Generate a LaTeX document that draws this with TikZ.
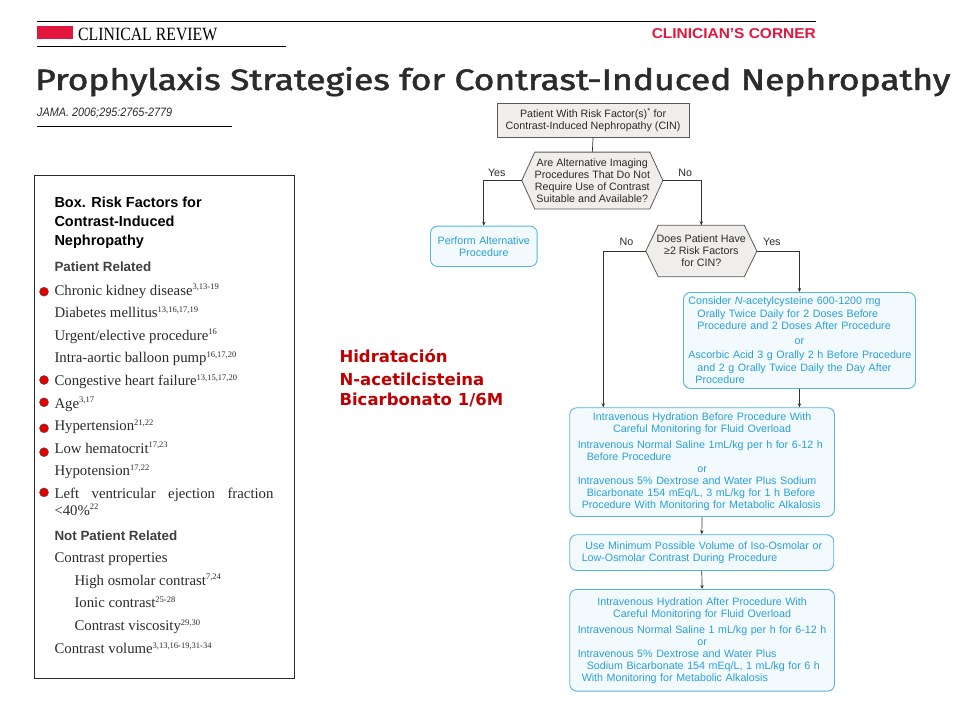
\documentclass[tikz,border=0pt]{standalone}
\usepackage{fontspec}
\usepackage{graphicx}
\setmainfont{Liberation Serif}
\setsansfont{Liberation Sans}
\newfontfamily\titlefont{Fira Sans}[FakeBold=1.6]
\newfontfamily\notefont{DejaVu Sans}
\usepackage{tikz}
\usetikzlibrary{calc,positioning,arrows.meta,backgrounds}
\definecolor{crimson}{HTML}{E3173E}
\definecolor{notered}{HTML}{C00000}
\definecolor{flowblue}{HTML}{2A9FD8}
\definecolor{flowedge}{HTML}{55B4E2}
\definecolor{flowfill}{HTML}{F3FAFD}
\definecolor{boxgrey}{HTML}{5A5A5A}
\definecolor{boxfill}{HTML}{EFEEEA}
\definecolor{boxink}{HTML}{2B2B2B}
\definecolor{linkgrey}{HTML}{333333}
\definecolor{dotred}{HTML}{E00000}

\newcommand{\refnum}[1]{\textsuperscript{\fontsize{8.5}{8.5}\selectfont #1}}
\newcommand{\indln}{\hspace*{9pt}}
% hexagon drawn round a text node, #2 = inset of the points
\newcommand{\hexframe}[2]{%
  \draw[hexbox] ($(#1.north west)+(#2,0)$) -- ($(#1.north east)+(-#2,0)$) -- (#1.east)
    -- ($(#1.south east)+(-#2,0)$) -- ($(#1.south west)+(#2,0)$) -- (#1.west) -- cycle;}

\tikzset{
  flowtext/.style={font=\sffamily\fontsize{10.7}{12}\selectfont},
  greybox/.style={draw=boxgrey, fill=boxfill, line width=0.8pt, flowtext, text=boxink,
    align=center, inner sep=0pt, anchor=north west},
  bluebox/.style={draw=flowedge, fill=flowfill, line width=0.9pt, rounded corners=7pt,
    text=flowblue, flowtext, align=left, inner xsep=3pt, inner ysep=0pt, anchor=north west},
  hextext/.style={flowtext, text=boxink, align=center, inner sep=0pt},
  hexbox/.style={draw=boxgrey, fill=boxfill, line width=0.8pt},
  link/.style={draw=linkgrey, line width=0.7pt},
  arrowlink/.style={link, -{Stealth[length=4pt,width=3.4pt]}},
  lbl/.style={flowtext, text=boxink, inner sep=0pt},
  boxhead/.style={anchor=base west, inner sep=0pt, font=\sffamily\bfseries\fontsize{14.5}{17}\selectfont},
  subhead/.style={anchor=base west, inner sep=0pt, font=\sffamily\bfseries\fontsize{13.4}{17}\selectfont, text=boxink!90},
  riskitem/.style={anchor=base west, inner sep=0pt, font=\rmfamily\fontsize{14.8}{17}\selectfont, text=boxink},
  riskdot/.style={fill=dotred, draw=black!70, line width=0.4pt},
  redline/.style={anchor=base west, inner sep=0pt, text=notered, font=\notefont\bfseries\fontsize{16.5}{20}\selectfont},
  rule/.style={draw=black, line width=0.8pt}
}

\begin{document}
\begin{tikzpicture}[x=1pt,y=-1pt]
  \useasboundingbox (0,0) rectangle (960,720);

  % page header
  \draw[rule] (37,21) -- (816,21);
  \node[fill=crimson, inner sep=0pt, minimum width=36pt, minimum height=13pt, anchor=north west] (crmark) at (37,26) {};
  \node[anchor=base west, inner sep=0pt] (crtitle) at (78,40.7) {\resizebox{139pt}{12.4pt}{\rmfamily CLINICAL REVIEW}};
  \draw[rule] (37,46.7) -- (286,46.7);
  \node[anchor=base east, inner sep=0pt, text=crimson] (corner) at (816,38.3) {\resizebox{164pt}{10pt}{\sffamily\bfseries CLINICIAN'S CORNER}};
  \node[anchor=base west, inner sep=0pt, text=boxink] (title) at (35,90) {\resizebox{915pt}{23pt}{\titlefont Prophylaxis Strategies for Contrast-Induced Nephropathy}};
  \node[anchor=base west, inner sep=0pt, text=boxink] (jama) at (37,116) {\resizebox{135pt}{8.5pt}{\sffamily\itshape JAMA. 2006;295:2765-2779}};
  \draw[rule] (37,126) -- (232,126);

  % risk factor box
  \node[draw=boxink, line width=1.3pt, minimum width=259.5pt, minimum height=502.5pt, inner sep=0pt, anchor=north west] (riskbox) at (34,175) {};
  \foreach \t [count=\i] in {Box. Risk Factors for, Contrast-Induced, Nephropathy}
    \node[boxhead] (head\i) at (54.3,188.3+19*\i) {\t};
  \node[subhead] (patrel) at (54.3,271.7) {Patient Related};
  \foreach \t [count=\k from 0] in {
      {Chronic kidney disease\refnum{3,13-19}},
      {Diabetes mellitus\refnum{13,16,17,19}},
      {Urgent/elective procedure\refnum{16}},
      {Intra-aortic balloon pump\refnum{16,17,20}},
      {Congestive heart failure\refnum{13,15,17,20}},
      {Age\refnum{3,17}},
      {Hypertension\refnum{21,22}},
      {Low hematocrit\refnum{17,23}},
      {Hypotension\refnum{17,22}},
      {\makebox[219pt][s]{Left ventricular ejection fraction}}}
    \node[riskitem] (pr\k) at (54.3,295+22.6*\k) {\t};
  \node[riskitem] (lvef) at (54.3,515) {<40\%\refnum{22}};
  \node[subhead] (notpat) at (54.3,540) {Not Patient Related};
  \node[riskitem] (cprop) at (54.3,562.7) {Contrast properties};
  \foreach \x/\y/\t/\n in {74.3/585/{High osmolar contrast\refnum{7,24}}/osmo,
      74.3/607.3/{Ionic contrast\refnum{25-28}}/ionic,
      74.3/630.7/{Contrast viscosity\refnum{29,30}}/visc,
      54.3/653.3/{Contrast volume\refnum{3,13,16-19,31-34}}/cvol}
    \node[riskitem] (\n) at (\x,\y) {\t};
  \foreach \k/\dy in {0/3.3,4/5.4,5/5.7,6/2.3,7/1,9/6}
    \draw[riskdot] ($(pr\k.base west)+(-10.3,-\dy)$) circle (4.5pt);

  % note in red
  \node[redline] (hidr) at (339.3,362.7) {Hidratación};
  \node[redline] (nac) at (339.3,385) {N-acetilcisteina};
  \node[redline] (bicarb) at (339.3,405.7) {Bicarbonato 1/6M};

  % flowchart
  \node[greybox, minimum width=192pt, minimum height=33.4pt] (start) at (496.7,103.3)
    {Patient With Risk Factor(s)\textsuperscript{*} for\\Contrast-Induced Nephropathy (CIN)};
  \node[hextext, minimum width=140.7pt, minimum height=56.4pt] (altq) at (592.3,180.5)
    {Are Alternative Imaging\\Procedures That Do Not\\Require Use of Contrast\\Suitable and Available?};
  \node[hextext, minimum width=110.7pt, minimum height=51pt] (riskq) at (701.3,251)
    {Does Patient Have\\≥2 Risk Factors\\for CIN?};

  \node[bluebox, align=center, text width=100.7pt, minimum width=106.7pt, minimum height=40.3pt] (perform) at (430,225.7)
    {Perform Alternative\\Procedure};
  \node[bluebox, font=\sffamily\fontsize{10.7}{12.5}\selectfont, text width=226pt, minimum width=232pt, minimum height=96pt] (consider) at (683,292) {%
    \leftskip=2pt Consider \emph{N}-acetylcysteine 600-1200 mg\\
    \indln Orally Twice Daily for 2 Doses Before\\
    \indln Procedure and 2 Doses After Procedure\par
    \vspace{2pt}{\centering or\par}\vspace{2pt}
    Ascorbic Acid 3 g Orally 2 h Before Procedure\\
    \indln and 2 g Orally Twice Daily the Day After\\
    \indln Procedure};
  \node[bluebox, text width=258.7pt, minimum width=264.7pt, minimum height=108.7pt] (ivpre) at (569.3,407.3) {%
    {\centering Intravenous Hydration Before Procedure With\\Careful Monitoring for Fluid Overload\par}
    \vspace{4pt}\leftskip=5pt
    Intravenous Normal Saline 1mL/kg per h for 6-12 h\\
    \indln Before Procedure\par
    {\centering or\par}
    Intravenous 5\% Dextrose and Water Plus Sodium\\
    \indln Bicarbonate 154 mEq/L, 3 mL/kg for 1 h Before\\
    \indln Procedure With Monitoring for Metabolic Alkalosis};
  \node[bluebox, text width=258pt, minimum width=264pt, minimum height=35.7pt] (minvol) at (569.3,534.3) {%
    \leftskip=12.7pt Use Minimum Possible Volume of Iso-Osmolar or\\
    \indln Low-Osmolar Contrast During Procedure};
  \node[bluebox, text width=258.7pt, minimum width=264.7pt, minimum height=101.7pt] (ivpost) at (569.3,589) {%
    {\centering Intravenous Hydration After Procedure With\\Careful Monitoring for Fluid Overload\par}
    \vspace{4pt}\leftskip=5pt
    Intravenous Normal Saline 1 mL/kg per h for 6-12 h\par
    {\centering or\par}
    Intravenous 5\% Dextrose and Water Plus\\
    \indln Sodium Bicarbonate 154 mEq/L, 1 mL/kg for 6 h\\
    \indln With Monitoring for Metabolic Alkalosis};

  \begin{scope}[on background layer]
    \fill[white] (0,0) rectangle (960,720);
    \hexframe{altq}{13}
    \hexframe{riskq}{12.5}
  \end{scope}

  % connectors
  \draw[link] (start.south) -- (altq.north);
  \draw[arrowlink] (altq.west) -| (perform.north);
  \draw[arrowlink] (altq.east) -| (riskq.north);
  \draw[arrowlink] (riskq.west) -| ($(ivpre.north west)+(34,0)$);
  \draw[arrowlink] (riskq.east) -| (consider.north);
  \draw[arrowlink] (consider.south) -- (consider.south |- ivpre.north);
  \draw[arrowlink] (ivpre.south) -- (minvol.north);
  \draw[arrowlink] (minvol.south) -- (ivpost.north);
  \node[lbl] (yesalt) at ($(altq.west)+(-25,-7.5)$) {Yes};
  \node[lbl] (noalt) at ($(altq.east)+(22.3,-7.8)$) {No};
  \node[lbl] (norisk) at ($(riskq.west)+(-19.3,-8.8)$) {No};
  \node[lbl] (yesrisk) at ($(riskq.east)+(15,-8.8)$) {Yes};
\end{tikzpicture}
\end{document}
